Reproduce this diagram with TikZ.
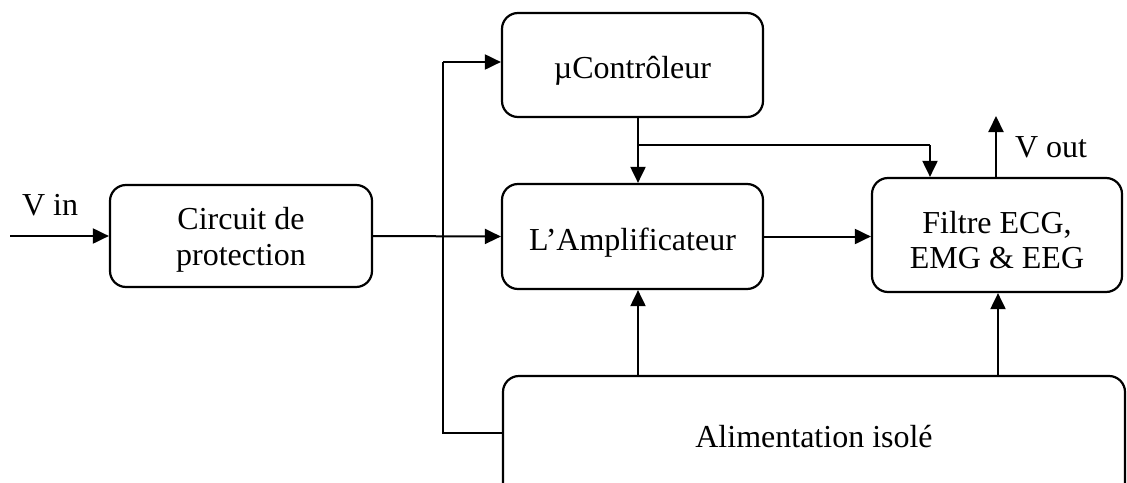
\documentclass[tikz,border=0pt]{standalone}
\usepackage{fontspec}
\setmainfont{Liberation Serif}
\usetikzlibrary{arrows.meta}
\begin{document}
\begin{tikzpicture}[x=1pt,y=1pt,
  blk/.style={draw,line width=2.2pt,rounded corners=16pt,inner sep=0pt},
  txt/.style={align=center,inner sep=0pt,font=\fontsize{32}{35.5}\selectfont},
  arr/.style={line width=2pt,-{Triangle[length=16pt,width=15pt]}},
  ln/.style={line width=2pt},
  lbl/.style={font=\fontsize{32}{36}\selectfont,inner sep=0pt}]
\clip (0,0) rectangle (1127,-482);
\useasboundingbox (0,0) rectangle (1127,-482);
\node[blk,minimum width=262pt,minimum height=102pt,
  label={[txt,yshift=-4pt]center:Circuit de\\protection}] (prot) at (241,-236) {};
\node[blk,minimum width=261pt,minimum height=104pt,
  label={[txt,yshift=-5.5pt]center:µContrôleur}] (mc) at (632.5,-65) {};
\node[blk,minimum width=261pt,minimum height=105pt,
  label={[txt,yshift=-6pt]center:L’Amplificateur}] (amp) at (632.5,-236.5) {};
\node[blk,minimum width=250pt,minimum height=114pt,
  label={[txt,yshift=-5pt]center:Filtre ECG,\\EMG \& EEG}] (filt) at (997,-235) {};
\node[blk,minimum width=622pt,minimum height=122pt,
  label={[txt]center:Alimentation isolé}] (alim) at (814,-437) {};
% input
\coordinate (vin) at (10,-236);
\draw[arr] (vin) -- (prot.west);
\node[lbl] (vinl) at (50,-205) {V in};
% protection to amplifier
\draw[arr] (prot.east) -- (amp.west);
% left bus
\coordinate (bl) at (443,-433);
\coordinate (tl) at (443,-62);
\draw[ln] (alim.west |- bl) -- (bl) -- (tl);
\draw[arr] (tl) -- (tl -| mc.west);
% microcontroller outputs
\coordinate (c1) at (638,-145);
\coordinate (c2) at (930,-145);
\draw[arr] (c1 |- mc.south) -- (c1 |- amp.north);
\draw[ln] (c1) -- (c2);
\draw[arr] (c2) -- (c2 |- filt.north);
% amp to filter
\draw[arr] (amp.east) -- (amp.east -| filt.west);
% output
\coordinate (vo) at (996,-116);
\draw[arr] (vo |- filt.north) -- (vo);
\node[lbl] (voutl) at (1051,-147) {V out};
% power supply
\coordinate (p1) at (638,-376);
\coordinate (p2) at (998,-376);
\draw[arr] (p1) -- (p1 |- amp.south);
\draw[arr] (p2) -- (p2 |- filt.south);
\end{tikzpicture}
\end{document}
